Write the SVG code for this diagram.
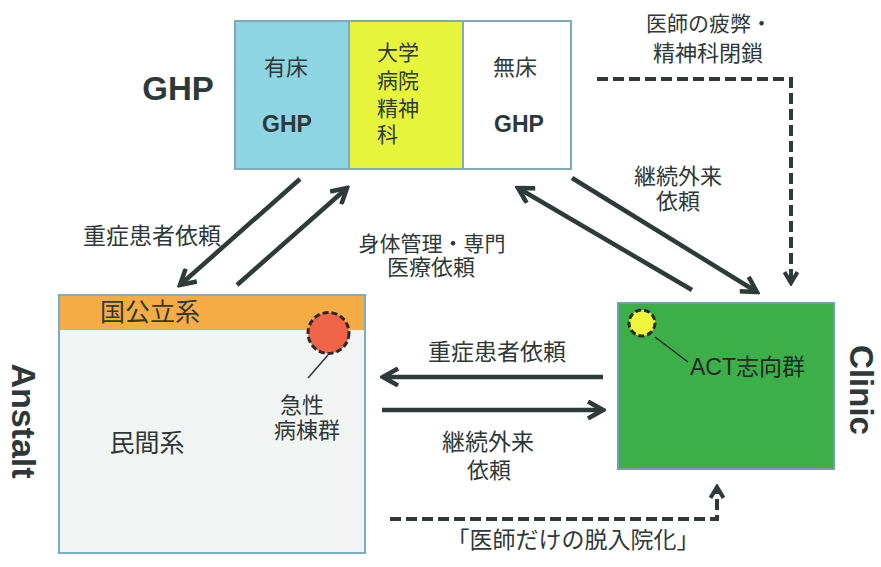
<svg xmlns="http://www.w3.org/2000/svg" width="881" height="567" viewBox="0 0 881 567">
<style>
.jp{font-family:"Noto Sans CJK JP","Noto Sans CJK SC",sans-serif;fill:#2e3838;text-anchor:middle}
.lat{font-family:"Liberation Sans","Noto Sans CJK JP",sans-serif;font-weight:bold;fill:#2e3838;text-anchor:middle}
.arr{fill:none;stroke:#2f3a3a;stroke-width:4.5;marker-end:url(#ah)}
.dash{fill:none;stroke:#2f3a3a;stroke-width:4;stroke-dasharray:11 5;marker-end:url(#ahs)}
.dot{stroke:#2a2a2a;stroke-width:3;stroke-dasharray:6 3}
</style>
<defs>
<marker id="ah" viewBox="0 0 20 20" markerUnits="userSpaceOnUse" markerWidth="20" markerHeight="20" refX="17" refY="10" orient="auto">
<path d="M2,1.5 L17,10 L2,18.5" fill="none" stroke="#2f3a3a" stroke-width="4.5" stroke-linejoin="miter"/>
</marker>
<marker id="ahs" viewBox="0 0 16 16" markerUnits="userSpaceOnUse" markerWidth="16" markerHeight="16" refX="13" refY="8" orient="auto">
<path d="M2,1.5 L13,8 L2,14.5" fill="none" stroke="#2f3a3a" stroke-width="4"/>
</marker>
</defs>
<rect width="881" height="567" fill="#ffffff"/>

<g id="ghp">
<rect x="235" y="21" width="114" height="148" fill="#8ed5e3"/>
<rect x="349" y="21" width="114" height="148" fill="#e6f53c"/>
<rect x="463" y="21" width="108" height="148" fill="#ffffff"/>
<rect x="235" y="21" width="336" height="148" fill="none" stroke="#7eaabb" stroke-width="2"/>
<line x1="349" y1="21" x2="349" y2="169" stroke="#7eaabb" stroke-width="2"/>
<line x1="463" y1="21" x2="463" y2="169" stroke="#7eaabb" stroke-width="2"/>
<text class="jp" x="286" y="75" font-size="22">有床</text>
<text class="lat" x="287" y="132" font-size="23">GHP</text>
<text class="jp" x="377" y="60" font-size="21" style="text-anchor:start">大学</text>
<text class="jp" x="377" y="88" font-size="21" style="text-anchor:start">病院</text>
<text class="jp" x="377" y="116" font-size="21" style="text-anchor:start">精神</text>
<text class="jp" x="377" y="142" font-size="21" style="text-anchor:start">科</text>
<text class="jp" x="515" y="75" font-size="22">無床</text>
<text class="lat" x="519" y="132" font-size="23">GHP</text>
</g>
<text id="ghp-label" class="lat" x="178" y="100" font-size="33">GHP</text>

<g id="anstalt">
<rect x="59" y="295" width="306" height="258" fill="#f2f3f3" stroke="#7aaec6" stroke-width="2"/>
<rect x="60" y="296" width="304" height="34" fill="#f5ac45"/>
<text class="jp" x="100" y="321" font-size="25" style="text-anchor:start">国公立系</text>
<circle class="dot" cx="328.5" cy="333" r="20.5" fill="#f0644a"/>
<line x1="328" y1="355" x2="308" y2="378" stroke="#333" stroke-width="1.5"/>
<text class="jp" x="302" y="413" font-size="22">急性</text>
<text class="jp" x="307" y="438" font-size="22">病棟群</text>
<text class="jp" x="147" y="452" font-size="25">民間系</text>
</g>
<text id="anstalt-label" class="lat" font-size="34" transform="translate(12,421) rotate(90)">Anstalt</text>

<g id="clinic">
<rect x="618" y="303" width="216" height="166" fill="#3daf48" stroke="#6f9fb8" stroke-width="2"/>
<circle class="dot" cx="642" cy="323" r="13" fill="#eef53a"/>
<line x1="655" y1="337" x2="688" y2="362" stroke="#1f2a24" stroke-width="1.5"/>
<text class="jp" x="690" y="375" font-size="23" style="text-anchor:start;font-family:'Liberation Sans','Noto Sans CJK JP',sans-serif;fill:#1f2a24">ACT志向群</text>
</g>
<text id="clinic-label" class="lat" font-size="33" transform="translate(850,390) rotate(90)">Clinic</text>

<g id="connectors">
<line class="arr" x1="300" y1="179" x2="180" y2="285"/>
<line class="arr" x1="237" y1="285" x2="347" y2="188"/>
<line class="arr" x1="692" y1="290" x2="518" y2="188"/>
<line class="arr" x1="572" y1="178" x2="757" y2="292"/>
<line class="arr" x1="603" y1="377" x2="383" y2="377"/>
<line class="arr" x1="382" y1="410" x2="603" y2="410"/>
<path class="dash" d="M597,79 H791 V283"/>
<path class="dash" d="M390,519 H717 V487"/>
</g>

<g id="labels">
<text class="jp" x="152" y="244" font-size="23">重症患者依頼</text>
<text class="jp" x="432" y="251" font-size="21">身体管理・専門</text>
<text class="jp" x="431" y="275" font-size="22">医療依頼</text>
<text class="jp" x="678" y="184" font-size="22">継続外来</text>
<text class="jp" x="678" y="209" font-size="22">依頼</text>
<text class="jp" x="709" y="31" font-size="21">医師の疲弊・</text>
<text class="jp" x="708" y="61" font-size="22">精神科閉鎖</text>
<text class="jp" x="497" y="360" font-size="23">重症患者依頼</text>
<text class="jp" x="488" y="450" font-size="23">継続外来</text>
<text class="jp" x="489" y="478" font-size="22">依頼</text>
<text class="jp" x="573" y="548" font-size="23">「医師だけの脱入院化」</text>
</g>
</svg>
